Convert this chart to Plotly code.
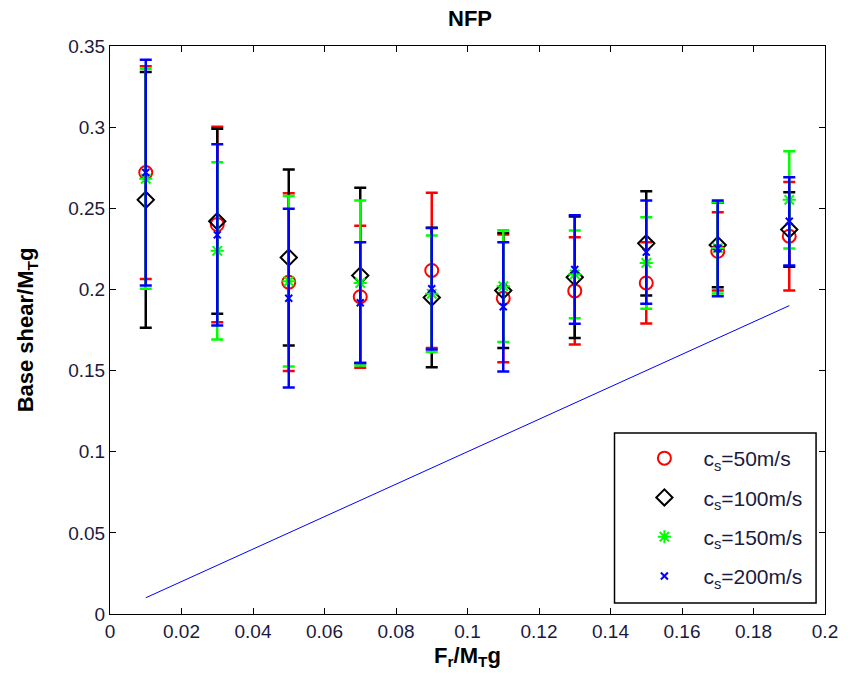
import plotly.graph_objects as go

# Normalised restoring force F_r/(M_T g)
fr = [0.01, 0.03, 0.05, 0.07, 0.09, 0.11, 0.13, 0.15, 0.17, 0.19]

# Mean base shear / (M_T g) and its scatter for each soil shear-wave velocity
shear_50 = [0.272, 0.240, 0.2045, 0.1955, 0.2117, 0.1945, 0.1991, 0.204, 0.2235, 0.2328]
err_50 = [0.0655, 0.0603, 0.0548, 0.0437, 0.0478, 0.0393, 0.0331, 0.025, 0.0241, 0.0334]

shear_100 = [0.2552, 0.242, 0.2197, 0.2086, 0.195, 0.1993, 0.2075, 0.2284, 0.2274, 0.2369]
err_100 = [0.0788, 0.057, 0.0542, 0.054, 0.043, 0.0354, 0.0375, 0.0321, 0.026, 0.023]

shear_150 = [0.2682, 0.2238, 0.205, 0.204, 0.1973, 0.202, 0.2093, 0.2163, 0.2255, 0.2552]
err_150 = [0.0678, 0.0546, 0.0525, 0.0508, 0.0359, 0.0344, 0.027, 0.0282, 0.028, 0.030]

shear_200 = [0.272, 0.2336, 0.1946, 0.1918, 0.2004, 0.1893, 0.2123, 0.223, 0.2253, 0.242]
err_200 = [0.0696, 0.0558, 0.0551, 0.0372, 0.0374, 0.0398, 0.0334, 0.0318, 0.0295, 0.0272]

# Reference line: base shear equal to the restoring force
ref_x = [0.01, 0.19]
ref_y = [0.01, 0.19]

labels = ["c<sub>s</sub>=50m/s", "c<sub>s</sub>=100m/s",
          "c<sub>s</sub>=150m/s", "c<sub>s</sub>=200m/s"]

x_ticks = [0, 0.02, 0.04, 0.06, 0.08, 0.1, 0.12, 0.14, 0.16, 0.18, 0.2]
x_tick_text = ["0", "0.02", "0.04", "0.06", "0.08", "0.1", "0.12", "0.14", "0.16", "0.18", "0.2"]
y_ticks = [0, 0.05, 0.1, 0.15, 0.2, 0.25, 0.3, 0.35]
y_tick_text = ["0", "0.05", "0.1", "0.15", "0.2", "0.25", "0.3", "0.35"]

series = [
    (shear_50, err_50, "#ff0000", "circle-open", 13),
    (shear_100, err_100, "#000000", "diamond-open", 12.5),
    (shear_150, err_150, "#00ff00", "asterisk-open", 11),
    (shear_200, err_200, "#0000ff", "x-thin-open", 7),
]

FONT = "Liberation Sans"

fig = go.Figure()

fig.add_trace(go.Scatter(
    x=ref_x, y=ref_y, mode="lines",
    line=dict(color="#0000ff", width=1),
    showlegend=False, hoverinfo="skip",
))

for i, (vals, errs, color, symbol, size) in enumerate(series):
    fig.add_trace(go.Scatter(
        x=fr, y=vals, mode="markers", name=labels[i],
        legendgroup=f"g{i}",
        marker=dict(symbol=symbol, size=size, color=color,
                    line=dict(color=color, width=2)),
        error_y=dict(type="data", array=errs, visible=True,
                     color=color, thickness=2.5, width=6),
    ))

axis_common = dict(
    showgrid=False, zeroline=False, showline=True, linecolor="black",
    linewidth=1, mirror="allticks", ticks="inside", ticklen=6,
    tickcolor="black", tickfont=dict(family=FONT, size=19, color="#1a1a40"),
)

# Legend frame, drawn behind the legend entries
fig.add_shape(type="rect", xref="paper", yref="paper",
              x0=0.7056, x1=0.9875, y0=0.0194, y1=0.3187,
              line=dict(color="black", width=1.5), fillcolor="white", layer="above")

fig.update_layout(
    width=850, height=685,
    margin=dict(l=110, r=20, t=46, b=71),
    paper_bgcolor="white", plot_bgcolor="white",
    title=dict(text="<b>NFP</b>", x=(110 + 830) / 2 / 850, xanchor="center",
               y=1 - 18 / 685, yanchor="middle",
               font=dict(family=FONT, size=22, color="black")),
    xaxis=dict(range=[0, 0.2], tickvals=x_ticks, ticktext=x_tick_text,
               title=dict(text="<b>F<sub>r</sub>/M<sub>T</sub>g</b>", standoff=6,
                          font=dict(family=FONT, size=22, color="black")),
               **axis_common),
    yaxis=dict(range=[0, 0.35], tickvals=y_ticks, ticktext=y_tick_text,
               title=dict(text="<b>Base shear/M<sub>T</sub>g</b>", standoff=28,
                          font=dict(family=FONT, size=22, color="black")),
               **axis_common),
    legend=dict(x=(629 - 110) / 720, y=0.3187 - 5 / 568, xanchor="left", yanchor="top",
                bgcolor="rgba(0,0,0,0)", borderwidth=0,
                font=dict(family=FONT, size=21, color="#1a1a40"),
                itemwidth=68, tracegroupgap=9, traceorder="grouped"),
    showlegend=True,
)

fig.write_html("out.html")
